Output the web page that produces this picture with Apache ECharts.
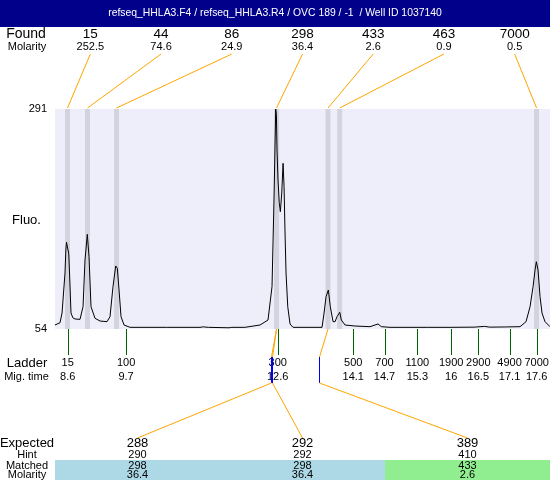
<!DOCTYPE html>
<html>
<head>
<meta charset="utf-8">
<script src="https://cdn.jsdelivr.net/npm/echarts@6/dist/echarts.min.js"></script>
<style>html,body{margin:0;padding:0;background:#fff}#c{width:550px;height:480px}</style>
</head>
<body>
<div id="c"></div>
<script>
// ---- data ----
const titleText = 'refseq_HHLA3.F4 / refseq_HHLA3.R4 / OVC 189 / -1  / Well ID 1037140';
const yMin = 54, yMax = 291;
const xMin = 8.356, xMax = 17.856; // migration time range (min)

// electropherogram trace [migration time, fluorescence]
const traceTime = [8.356,8.452,8.491,8.548,8.565,8.577,8.600,8.620,8.635,8.663,8.700,8.740,8.836,8.894,8.932,8.976,9.009,9.047,9.124,9.220,9.354,9.412,9.469,9.521,9.552,9.585,9.623,9.681,9.796,10.500,11.139,11.200,11.300,11.696,11.750,12.000,12.291,12.444,12.521,12.559,12.592,12.605,12.617,12.636,12.660,12.681,12.708,12.733,12.752,12.771,12.790,12.823,12.867,12.925,13.481,13.520,13.558,13.602,13.640,13.692,13.731,13.769,13.821,13.851,13.922,14.114,14.402,14.556,14.620,14.786,15.500,15.938,16.400,16.600,16.700,17.000,17.281,17.396,17.473,17.531,17.569,17.594,17.626,17.665,17.703,17.760,17.856];
const traceFluo = [58.3,60.8,71.2,114.3,140.0,147.4,147.4,135.0,114.3,71.2,66.0,64.8,64.4,78.0,128.3,156.0,131.9,78.0,65.5,62.6,61.9,67.3,99.6,121.9,119.4,96.0,67.3,58.3,55.8,55.8,55.8,56.3,55.8,55.3,55.8,55.8,58.3,63.7,99.6,193.0,291.0,285.0,246.8,214.5,190.0,180.4,200.5,232.5,207.3,157.4,114.3,78.0,59.4,55.8,55.8,71.2,88.8,96.0,78.0,61.9,61.9,67.3,72.0,63.7,58.3,57.2,56.5,59.4,56.5,55.8,55.8,55.8,56.0,56.8,56.0,56.2,56.5,61.9,78.0,99.6,117.6,126.5,117.6,88.8,71.2,61.9,56.5];

// found peaks
const foundSize = ['15','44','86','298','433','463','7000'];
const foundMolarity = ['252.5','74.6','24.9','36.4','2.6','0.9','0.5'];
const foundTime = [8.596, 8.980, 9.537, 12.608, 13.596, 13.820, 17.598];

// ladder
const ladderSize = ['15','100','300','500','700','1100','1900','2900','4900','7000'];
const ladderMigLabel = ['8.6','9.7','12.6','14.1','14.7','15.3','16','16.5','17.1','17.6'];
const ladderTime = [8.60, 9.72, 12.63, 14.08, 14.68, 15.31, 15.96, 16.48, 17.08, 17.60];

// expected fragments
const expectedSize = ['288','292','389'];
const expectedHint = ['290','292','410'];
const expectedTime = [12.496, 12.527, 13.423];
const matchedSize = ['298','298','433'];
const matchedMolarity = ['36.4','36.4','2.6'];
const matchedStatus = ['blue','blue','green'];

// ---- styling / layout ----
const FONT = '"Liberation Sans", Arial, sans-serif';
const PLOT_L = 55;
const statusColor = {blue:'#ADD8E6', green:'#90EE90'};
const ORANGE = '#FFA500';

const chart = echarts.init(document.getElementById('c'), null, {renderer:'canvas'});

function txt(text, x, y, size, align, fill) {
  return {type:'text', silent:true, style:{text:text, x:x, y:y, align:align||'center', verticalAlign:'middle',
    font: size + 'px ' + FONT, fill: fill||'#000'}};
}

const option = {
  animation: false,
  backgroundColor: '#ffffff',
  graphic: [
    {type:'rect', shape:{x:0,y:0,width:550,height:27}, style:{fill:'#00008B'}, z:0},
    {type:'text', style:{text:titleText, x:275, y:13.5, align:'center', verticalAlign:'middle', font:'10.4px '+FONT, fill:'#fff'}},
    {type:'text', style:{text:'Found', x:26, y:34, align:'center', verticalAlign:'middle', font:'14px '+FONT, fill:'#000'}},
    {type:'text', style:{text:'Molarity', x:27, y:47, align:'center', verticalAlign:'middle', font:'11px '+FONT, fill:'#000'}},
    {type:'text', style:{text:'Fluo.', x:26.5, y:220, align:'center', verticalAlign:'middle', font:'13px '+FONT, fill:'#000'}},
    {type:'text', style:{text:'Ladder', x:27, y:363, align:'center', verticalAlign:'middle', font:'13px '+FONT, fill:'#000'}},
    {type:'text', style:{text:'Mig. time', x:26.5, y:377, align:'center', verticalAlign:'middle', font:'11px '+FONT, fill:'#000'}},
    {type:'text', style:{text:'Expected', x:27, y:443, align:'center', verticalAlign:'middle', font:'13px '+FONT, fill:'#000'}},
    {type:'text', style:{text:'Hint', x:27, y:455, align:'center', verticalAlign:'middle', font:'11px '+FONT, fill:'#000'}},
    {type:'text', style:{text:'Matched', x:27, y:465.5, align:'center', verticalAlign:'middle', font:'11px '+FONT, fill:'#000'}},
    {type:'text', style:{text:'Molarity', x:27, y:475, align:'center', verticalAlign:'middle', font:'11px '+FONT, fill:'#000'}}
  ],
  grid: {left: PLOT_L, right: 0, top: 109, height: 220, show: true, backgroundColor: '#EEEEFA', borderWidth: 0},
  xAxis: {type:'value', min:xMin, max:xMax, show:false},
  yAxis: {type:'value', min:yMin, max:yMax, interval:yMax-yMin,
    axisLine:{show:false}, axisTick:{show:false}, splitLine:{show:false},
    axisLabel:{fontSize:11, fontFamily:FONT, color:'#000', margin:8}},
  series: [
    { // peak bands
      type:'custom', z:2, clip:false,
      data: foundTime.map((t,i)=>[t,i]),
      renderItem: function(params, api){
        const top = api.coord([api.value(0), yMax]);
        const bot = api.coord([api.value(0), yMin]);
        return {type:'rect', shape:{x:top[0]-2.5, y:top[1], width:5, height:bot[1]-top[1]}, style:{fill:'#D3D3E0'}};
      }
    },
    { // trace
      type:'line', z:3, symbol:'none', smooth:false,
      data: traceTime.map((t,i)=>[t, traceFluo[i]]),
      lineStyle:{color:'#000', width:1}
    },
    { // found annotations
      type:'custom', z:4, clip:false,
      data: foundTime.map((t,i)=>[t,i]),
      renderItem: function(params, api){
        const i = api.value(1);
        const colW = (api.getWidth() - PLOT_L) / foundSize.length;
        const cx = PLOT_L + colW*(i+0.5);
        const top = api.coord([api.value(0), yMax]);
        return {type:'group', children:[
          txt(foundSize[i], cx, 34, 13.5),
          txt(foundMolarity[i], cx, 47, 11),
          {type:'line', shape:{x1:cx, y1:54, x2:top[0], y2:top[1]-1}, style:{stroke:ORANGE, lineWidth:1}}
        ]};
      }
    },
    { // ladder
      type:'custom', z:4, clip:false,
      data: ladderTime.map((t,i)=>[t,i]),
      renderItem: function(params, api){
        const i = api.value(1);
        const p = api.coord([api.value(0), yMin]);
        const x = Math.round(p[0]) + 0.5;
        return {type:'group', children:[
          {type:'line', shape:{x1:x, y1:p[1], x2:x, y2:p[1]+26}, style:{stroke:'#006400', lineWidth:1}},
          txt(ladderSize[i], p[0], p[1]+34, 11),
          txt(ladderMigLabel[i], p[0], p[1]+48, 11)
        ]};
      }
    },
    { // expected
      type:'custom', z:5, clip:false,
      data: expectedTime.map((t,i)=>[t,i]),
      renderItem: function(params, api){
        const i = api.value(1);
        const p = api.coord([api.value(0), yMin]);
        const x = Math.round(p[0]) + 0.5;
        const mt = foundTime[foundSize.indexOf(matchedSize[i])];
        const m = api.coord([mt, yMin]);
        const colW = (api.getWidth() - PLOT_L) / expectedSize.length;
        const cx = PLOT_L + colW*(i+0.5);
        return {type:'group', children:[
          {type:'rect', shape:{x:PLOT_L+colW*i, y:460, width:colW, height:20}, style:{fill:statusColor[matchedStatus[i]]}},
          {type:'line', shape:{x1:m[0], y1:m[1], x2:x, y2:p[1]+28}, style:{stroke:ORANGE, lineWidth:1}},
          {type:'line', shape:{x1:x, y1:p[1]+28, x2:x, y2:p[1]+54}, style:{stroke:'#0000FF', lineWidth:1}},
          {type:'line', shape:{x1:x, y1:p[1]+54, x2:cx, y2:438}, style:{stroke:ORANGE, lineWidth:1}},
          txt(expectedSize[i], cx, 443, 13),
          txt(expectedHint[i], cx, 455, 11),
          txt(matchedSize[i], cx, 465.5, 11),
          txt(matchedMolarity[i], cx, 475, 11)
        ]};
      }
    }
  ]
};
chart.setOption(option);
</script>
</body>
</html>
